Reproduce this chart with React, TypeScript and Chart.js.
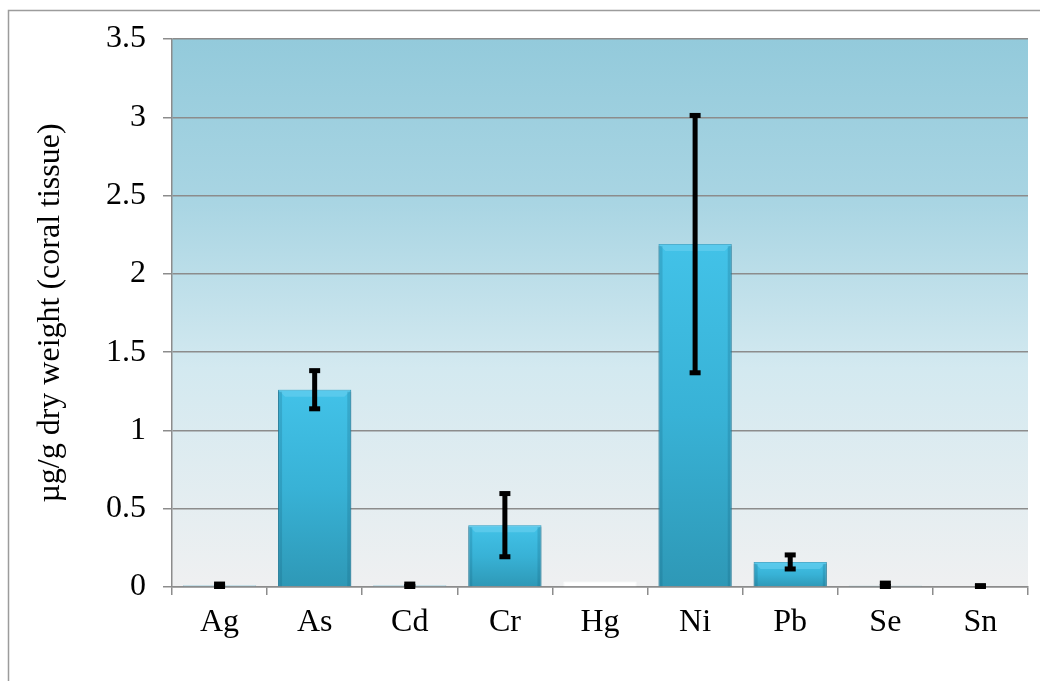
import React, { useEffect, useRef } from "react";
import { Chart, registerables } from "chart.js";

Chart.register(...registerables);

const categories = ["Ag", "As", "Cd", "Cr", "Hg", "Ni", "Pb", "Se", "Sn"];
const means = [0.01, 1.26, 0.01, 0.395, 0.035, 2.19, 0.16, 0.008, 0.004];
const errors = [0.012, 0.125, 0.012, 0.205, 0, 0.825, 0.048, 0.02, 0.008];
const yTicks = [0, 0.5, 1, 1.5, 2, 2.5, 3, 3.5];
const yTitle = "µg/g dry weight (coral tissue)";
const whiteBars = ["Hg"];

const FONT = "'Liberation Serif', 'Times New Roman', serif";

const framePlugin = {
  id: "frame",
  beforeDraw(chart: any) {
    const { ctx, chartArea } = chart;
    ctx.save();
    ctx.fillStyle = "#ffffff";
    ctx.fillRect(0, 0, chart.width, chart.height);
    ctx.strokeStyle = "#9c9c9c";
    ctx.lineWidth = 1.5;
    ctx.strokeRect(8.5, 10.5, 3000, 3000);
    const g = ctx.createLinearGradient(0, chartArea.top, 0, chartArea.bottom);
    g.addColorStop(0, "#93cadb");
    g.addColorStop(0.3, "#a9d5e3");
    g.addColorStop(0.6, "#d3e9f0");
    g.addColorStop(1, "#eff0f1");
    ctx.fillStyle = g;
    ctx.fillRect(chartArea.left, chartArea.top, chartArea.right - chartArea.left, chartArea.bottom - chartArea.top);
    ctx.restore();
  },
};

const barStylePlugin = {
  id: "barStyle",
  afterDatasetsDraw(chart: any) {
    const { ctx } = chart;
    const meta = chart.getDatasetMeta(0);
    const y = chart.scales.y;
    ctx.save();
    meta.data.forEach((bar: any, i: number) => {
      const white = whiteBars.includes(categories[i]);
      const h = bar.base - bar.y;
      const left = bar.x - bar.width / 2;
      const right = bar.x + bar.width / 2;
      if (!white && h > 12) {
        const bev = 7;
        ctx.fillStyle = "rgba(110, 210, 240, 0.55)";
        ctx.beginPath();
        ctx.moveTo(left, bar.y);
        ctx.lineTo(right, bar.y);
        ctx.lineTo(right - bev, bar.y + bev);
        ctx.lineTo(left + bev, bar.y + bev);
        ctx.closePath();
        ctx.fill();
        ctx.fillStyle = "rgba(20, 90, 120, 0.22)";
        ctx.fillRect(left, bar.y + 2, 4, h - 2);
        ctx.fillRect(right - 4, bar.y + 2, 4, h - 2);
      }
      const err = errors[i];
      if (err > 0) {
        const top = y.getPixelForValue(means[i] + err);
        const bot = y.getPixelForValue(Math.max(means[i] - err, 0));
        ctx.fillStyle = "#000";
        ctx.fillRect(bar.x - 2.5, top, 5, bot - top);
        ctx.fillRect(bar.x - 5.5, top - 2, 11, 5);
        ctx.fillRect(bar.x - 5.5, bot - 3, 11, 5);
      }
    });
    ctx.restore();
  },
};

export default function App() {
  const ref = useRef<HTMLCanvasElement>(null);
  useEffect(() => {
    const canvas = ref.current!;
    const chart = new Chart(canvas, {
      type: "bar",
      data: {
        labels: categories,
        datasets: [
          {
            data: means,
            backgroundColor: (c: any) => {
              if (whiteBars.includes(categories[c.dataIndex])) return "#ffffff";
              const ys = c.chart.scales && c.chart.scales.y;
              if (!ys || !c.chart.chartArea) return "#3ab6da";
              const top = ys.getPixelForValue(means[c.dataIndex]);
              const base = ys.getPixelForValue(0);
              if (base - top < 2) return "#5bc0e0";
              const g = c.chart.ctx.createLinearGradient(0, top, 0, base);
              g.addColorStop(0, "#42c2e8");
              g.addColorStop(0.5, "#38b2d6");
              g.addColorStop(1, "#2e98b6");
              return g;
            },
            borderColor: (c: any) =>
              whiteBars.includes(categories[c.dataIndex]) ? "#ffffff" : "#2a86a4",
            borderWidth: 1,
            barPercentage: 0.77,
            categoryPercentage: 1,
          },
        ],
      },
      options: {
        responsive: false,
        animation: false,
        devicePixelRatio: 1,
        layout: { padding: { top: 39, right: 12, left: 0, bottom: 0 } },
        plugins: { legend: { display: false }, tooltip: { enabled: false } },
        scales: {
          x: {
            grid: {
              offset: true,
              drawOnChartArea: false,
              drawTicks: true,
              tickLength: 8,
              color: "#8c8c8c",
              lineWidth: 1.5,
            },
            border: { color: "#8c8c8c", width: 1.5 },
            ticks: {
              color: "#000",
              font: { family: FONT, size: 32 },
              padding: 8,
            },
            afterFit: (s: any) => {
              s.height = 94;
            },
          },
          y: {
            min: 0,
            max: 3.5,
            afterBuildTicks: (s: any) => {
              s.ticks = yTicks.map((v) => ({ value: v }));
            },
            grid: { color: "#8c8c8c", lineWidth: 1.5, tickLength: 9 },
            border: { color: "#8c8c8c", width: 1.5 },
            ticks: {
              color: "#000",
              font: { family: FONT, size: 32 },
              padding: 17,
              callback: (v: any) => String(v),
            },
            title: {
              display: true,
              text: yTitle,
              color: "#000",
              font: { family: FONT, size: 32 },
              padding: { top: 31, bottom: 0 },
            },
            afterFit: (s: any) => {
              s.width = 172;
            },
          },
        },
      },
      plugins: [framePlugin, barStylePlugin],
    });
    return () => chart.destroy();
  }, []);
  return (
    <div style={{ position: "fixed", left: 0, top: 0, width: 1040, height: 681 }}>
      <canvas ref={ref} width={1040} height={681} style={{ width: 1040, height: 681, display: "block" }} />
    </div>
  );
}
